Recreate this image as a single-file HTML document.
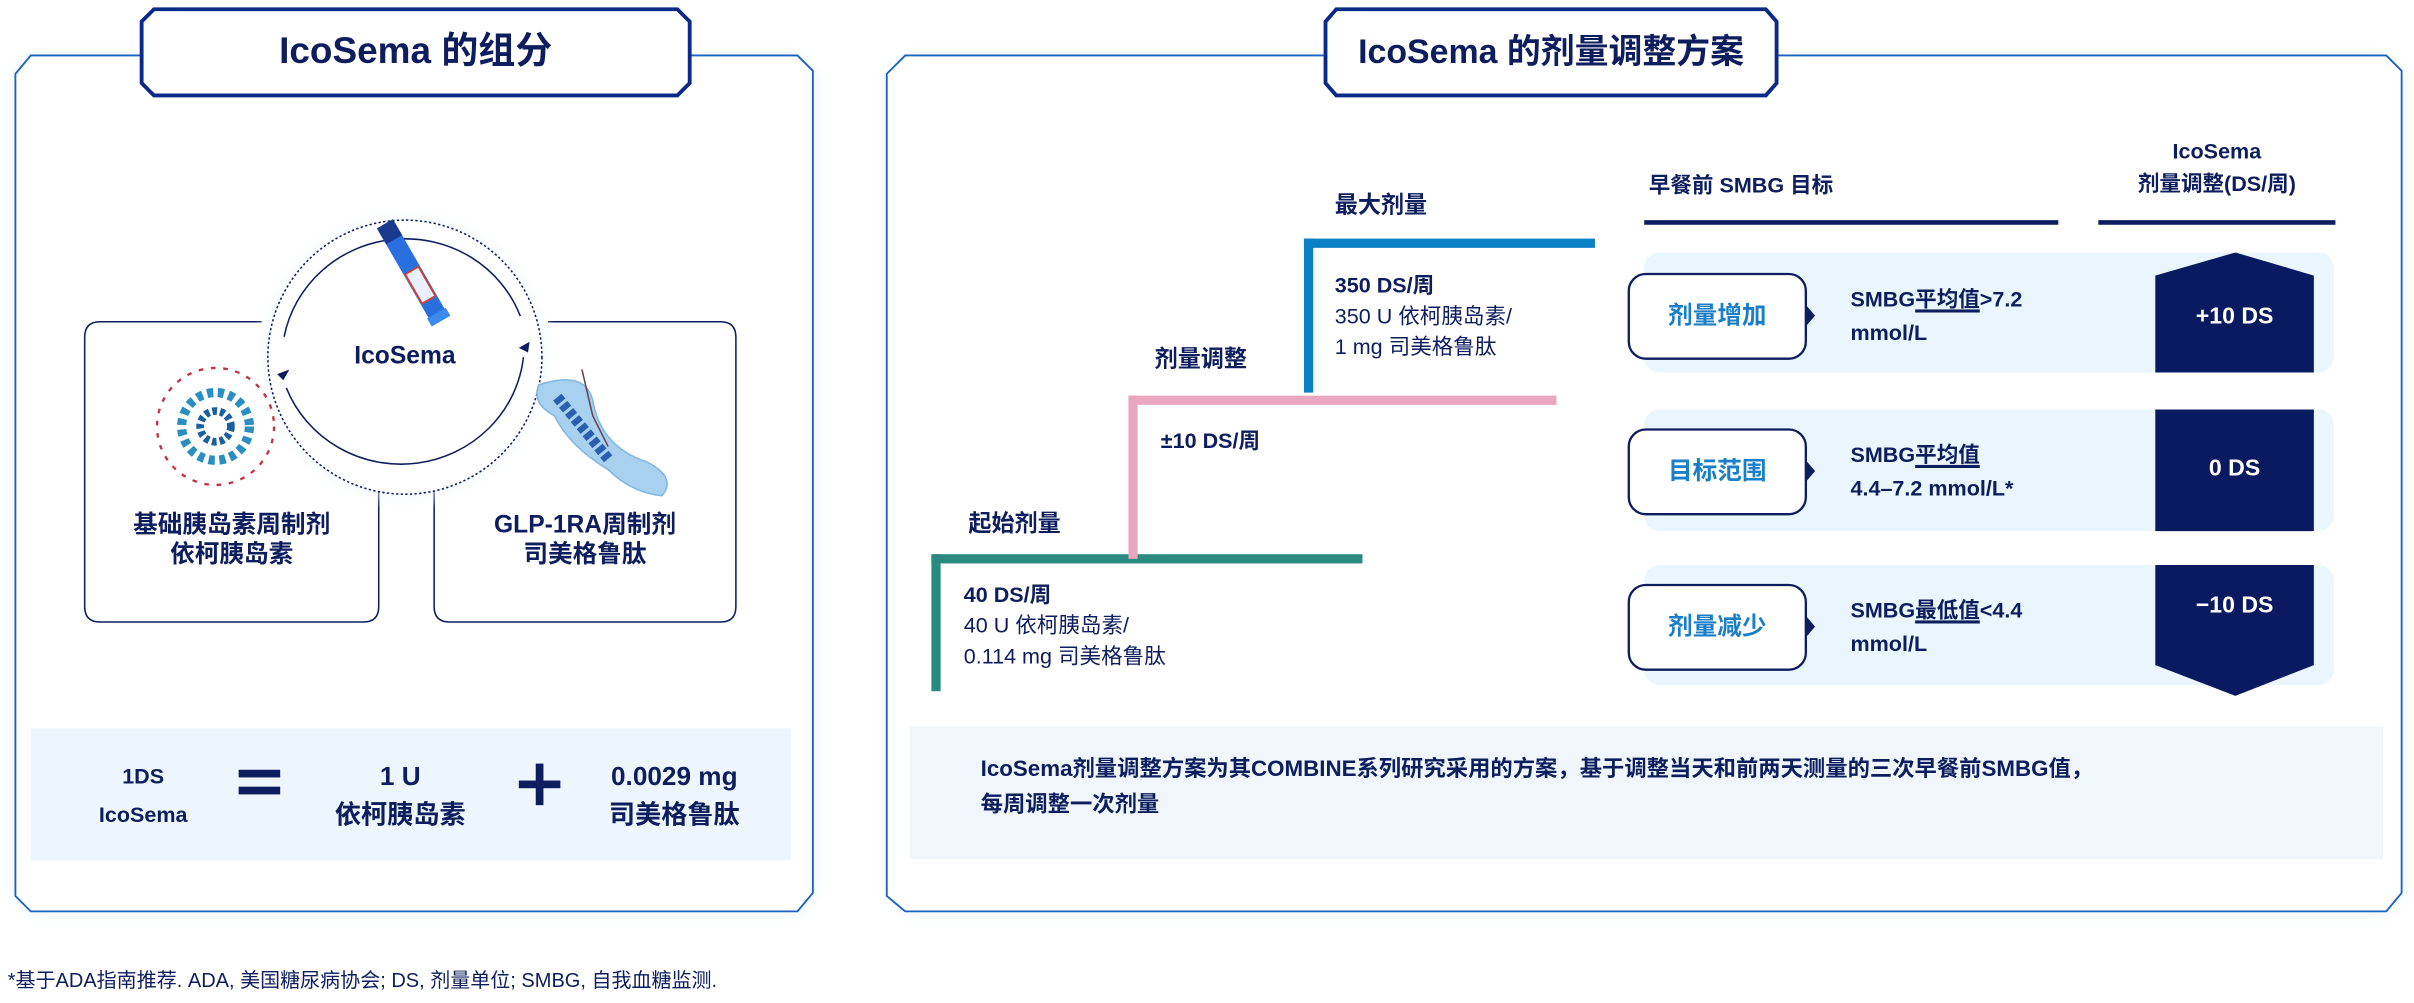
<!DOCTYPE html>
<html><head><meta charset="utf-8"><style>
*{margin:0;padding:0;box-sizing:border-box}
html,body{width:2414px;height:1003px;overflow:hidden;background:#fff}
#s{position:absolute;left:0;top:0;width:1568px;height:651.5px;transform:scale(1.5395);transform-origin:0 0;font-family:"Liberation Sans","Noto Sans CJK SC",sans-serif;color:#0d1d5e}
.a{position:absolute;white-space:nowrap}
.c{text-align:center}
.b{font-weight:bold}
u{text-decoration:underline;text-decoration-thickness:1.5px;text-underline-offset:2px}
</style></head><body><div id="s">
<svg class="a" style="left:0;top:0" width="1568" height="651" viewBox="0 0 1568 651">
<defs><filter id="g" x="-5%" y="-5%" width="110%" height="110%"><feGaussianBlur stdDeviation="4"/></filter>
<radialGradient id="rg"><stop offset="80%" stop-color="#e6f2fc"/><stop offset="100%" stop-color="#fff" stop-opacity="0"/></radialGradient></defs>
<path d="M20 36 H518 L530 48 V580 L518 594 H20 L8 580 V48 Z" fill="#eef4fc" filter="url(#g)"/>
<path d="M20 36 H518 L528 46 V580 L518 592 H20 L10 582 V48 Z" fill="#fff" stroke="#1a62c0" stroke-width="1.2"/>
<path d="M100 6 H440 L448 14 V54 L440 62 H100 L92 54 V14 Z" fill="#fff" stroke="#0a2a8a" stroke-width="2.5"/>
<path d="M588 36 H1550 L1562 48 V580 L1550 594 H588 L576 580 V48 Z" fill="#eef4fc" filter="url(#g)"/>
<path d="M588 36 H1550 L1560 46 V580 L1550 592 H588 L576 582 V48 Z" fill="#fff" stroke="#1a62c0" stroke-width="1.2"/>
<path d="M868 6 H1147 L1154 14 V54 L1147 62 H868 L861 54 V14 Z" fill="#fff" stroke="#0a2a8a" stroke-width="2.5"/>
<path d="M65 209 H170 M55 219 Q55 209 65 209 M55 219 V394 Q55 404 65 404 H236 Q246 404 246 394 V248" fill="none" stroke="#0d1d5e" stroke-width="1"/>
<path d="M356 209 H468 Q478 209 478 219 V394 Q478 404 468 404 H292 Q282 404 282 394 V248" fill="none" stroke="#0d1d5e" stroke-width="1"/>
<circle cx="263" cy="232" r="100" fill="url(#rg)"/>
<circle cx="263" cy="232" r="89" fill="#fff" stroke="#0d1d5e" stroke-width="1" stroke-dasharray="1.5 1.5"/>
<path d="M186 252 A80 78 0 0 0 340 232" fill="none" stroke="#0d1d5e" stroke-width="1"/>
<path d="M186 212 A80 78 0 0 1 340 212" fill="none" stroke="#0d1d5e" stroke-width="1" transform="rotate(-5 263 232)"/>
<path d="M180 243 l8 -3 l-4 7z" fill="#0d1d5e"/>
<path d="M344 222 l-7 4 l6 3z" fill="#0d1d5e"/>
<g transform="rotate(-30 270 180)"><rect x="264" y="140" width="12" height="70" rx="3" fill="#2a6fe0"/><rect x="265" y="175" width="10" height="22" fill="#e8f0ff" stroke="#d04030" stroke-width="1.2"/><rect x="263" y="207" width="14" height="6" fill="#3a8af0"/><rect x="264" y="140" width="12" height="12" fill="#1a3a90"/></g>
<g fill="none" stroke-width="2">
<circle cx="140" cy="277" r="22" stroke="#2a8fc0" stroke-width="6" stroke-dasharray="4 3"/>
<circle cx="140" cy="277" r="10" stroke="#1a5fa0" stroke-width="5" stroke-dasharray="3 2"/>
<circle cx="140" cy="277" r="38" stroke="#c33040" stroke-width="1.5" stroke-dasharray="3 5"/>
</g>
<path d="M350 250 Q380 240 385 260 Q390 290 420 300 Q440 310 430 322 Q410 320 395 305 Q370 290 360 270 Q345 262 350 250Z" fill="#a8d0ef" stroke="#7fb8e0"/>
<path d="M362 258 L395 298" stroke="#2a5fb0" stroke-width="7" stroke-dasharray="4 2"/>
<path d="M378 240 L385 270 L395 290" stroke="#6a4050" fill="none"/>
<rect x="20" y="473" width="494" height="86" fill="#eef6fd"/>
<rect x="155" y="500" width="27" height="5" fill="#0d1d5e"/><rect x="155" y="511" width="27" height="5" fill="#0d1d5e"/>
<rect x="337" y="507" width="27" height="5" fill="#0d1d5e"/><rect x="348" y="496" width="5" height="27" fill="#0d1d5e"/>
<rect x="605" y="360" width="280" height="6" fill="#2a8a80"/><rect x="605" y="360" width="6" height="89" fill="#2a8a80"/>
<rect x="733" y="257" width="278" height="6" fill="#eba6bf"/><rect x="733" y="257" width="6" height="106" fill="#eba6bf"/>
<rect x="847" y="155" width="189" height="6" fill="#0a7fc4"/><rect x="847" y="155" width="6" height="100" fill="#0a7fc4"/>
<rect x="1068" y="143" width="269" height="3" fill="#0d1d5e"/><rect x="1363" y="143" width="154" height="3" fill="#0d1d5e"/>
<rect x="1068" y="164" width="448" height="78" rx="10" fill="#eaf6fd"/>
<rect x="1068" y="266" width="448" height="79" rx="10" fill="#eaf6fd"/>
<rect x="1068" y="367" width="448" height="78" rx="10" fill="#eaf6fd"/>
<g fill="#fff" stroke="#0d1d5e" stroke-width="1.5">
<rect x="1058" y="178" width="115" height="55" rx="11"/><rect x="1058" y="279" width="115" height="55" rx="11"/><rect x="1058" y="380" width="115" height="55" rx="11"/></g>
<g fill="#0d1d5e"><path d="M1173 198 l6 7 l-6 7z"/><path d="M1173 299 l6 7 l-6 7z"/><path d="M1173 400 l6 7 l-6 7z"/></g>
<path d="M1400 179 L1452 164 L1503 179 V242 H1400Z" fill="#0a1a60"/>
<rect x="1400" y="266" width="103" height="79" fill="#0a1a60"/>
<path d="M1400 367 H1503 V432 L1452 452 L1400 432Z" fill="#0a1a60"/>
<rect x="591" y="472" width="957" height="86" fill="#eff7fd"/>
</svg>
<div class="a b c" style="left:92px;top:6px;width:356px;height:56px;line-height:56px;font-size:24px">IcoSema 的组分</div>
<div class="a b c" style="left:861px;top:6px;width:293px;height:56px;line-height:56px;font-size:22px">IcoSema 的剂量调整方案</div>
<div class="a b c" style="left:213px;top:222px;width:100px;font-size:16px;line-height:20px">IcoSema</div>
<div class="a b c" style="left:55px;top:332px;width:191px;font-size:16px;line-height:19px">基础胰岛素周制剂<br>依柯胰岛素</div>
<div class="a b c" style="left:282px;top:332px;width:196px;font-size:16px;line-height:19px">GLP-1RA周制剂<br>司美格鲁肽</div>
<div class="a b c" style="left:43px;top:492px;width:100px;font-size:14px;line-height:25px">1DS<br>IcoSema</div>
<div class="a b c" style="left:200px;top:492px;width:120px;font-size:17px;line-height:25px">1 U<br>依柯胰岛素</div>
<div class="a b c" style="left:378px;top:492px;width:120px;font-size:17px;line-height:25px">0.0029 mg<br>司美格鲁肽</div>
<div class="a" style="left:5px;top:629px;font-size:13px;line-height:16px">*基于ADA指南推荐. ADA, 美国糖尿病协会; DS, 剂量单位; SMBG, 自我血糖监测.</div>
<div class="a b" style="left:867px;top:125px;font-size:15px;line-height:18px">最大剂量</div>
<div class="a" style="left:867px;top:175px;font-size:14px;line-height:20px"><b>350 DS/周</b><br>350 U 依柯胰岛素/<br>1 mg 司美格鲁肽</div>
<div class="a b" style="left:750px;top:225px;font-size:15px;line-height:18px">剂量调整</div>
<div class="a b" style="left:754px;top:277px;font-size:14px;line-height:18px">±10 DS/周</div>
<div class="a b" style="left:629px;top:332px;font-size:15px;line-height:18px">起始剂量</div>
<div class="a" style="left:626px;top:376px;font-size:14px;line-height:20px"><b>40 DS/周</b><br>40 U 依柯胰岛素/<br>0.114 mg 司美格鲁肽</div>
<div class="a b" style="left:1071px;top:111px;font-size:14px;line-height:18px">早餐前 SMBG 目标</div>
<div class="a b c" style="left:1360px;top:88px;width:160px;font-size:14px;line-height:21px">IcoSema<br>剂量调整(DS/周)</div>
<div class="a b c" style="left:1058px;top:178px;width:115px;height:55px;line-height:55px;font-size:16px;color:#1a7fc8">剂量增加</div>
<div class="a b c" style="left:1058px;top:279px;width:115px;height:55px;line-height:55px;font-size:16px;color:#1a7fc8">目标范围</div>
<div class="a b c" style="left:1058px;top:380px;width:115px;height:55px;line-height:55px;font-size:16px;color:#1a7fc8">剂量减少</div>
<div class="a b" style="left:1202px;top:183px;font-size:14px;line-height:22px">SMBG<u>平均值</u>&gt;7.2<br>mmol/L</div>
<div class="a b" style="left:1202px;top:284px;font-size:14px;line-height:22px">SMBG<u>平均值</u><br>4.4–7.2 mmol/L*</div>
<div class="a b" style="left:1202px;top:385px;font-size:14px;line-height:22px">SMBG<u>最低值</u>&lt;4.4<br>mmol/L</div>
<div class="a b c" style="left:1400px;top:196px;width:103px;font-size:15px;line-height:20px;color:#fff">+10 DS</div>
<div class="a b c" style="left:1400px;top:295px;width:103px;font-size:15px;line-height:20px;color:#fff">0 DS</div>
<div class="a b c" style="left:1400px;top:384px;width:103px;font-size:15px;line-height:20px;color:#fff">−10 DS</div>
<div class="a b" style="left:637px;top:489px;font-size:14.5px;line-height:23px">IcoSema剂量调整方案为其COMBINE系列研究采用的方案，基于调整当天和前两天测量的三次早餐前SMBG值，<br>每周调整一次剂量</div>
</div></body></html>
